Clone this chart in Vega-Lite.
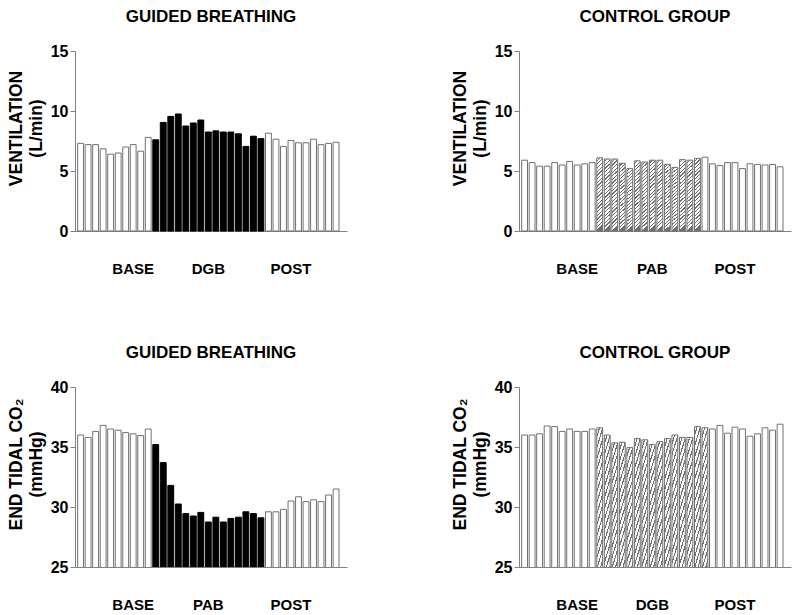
{
  "$schema": "https://vega.github.io/schema/vega-lite/v6.json",
  "padding": {"left": 7, "top": 8, "right": 2, "bottom": 2},
  "background": "white",
  "columns": 2,
  "spacing": {"row": 68, "column": 104},
  "config": {
    "font": "Liberation Sans",
    "view": {"stroke": null},
    "title": {"fontSize": 17, "fontWeight": "bold", "color": "black", "offset": 17, "anchor": "middle", "frame": "group"},
    "axisX": {"ticks": false, "labelAngle": 0, "labelPadding": 30, "labelFontSize": 15, "labelFontWeight": "bold", "labelColor": "black", "domainColor": "#808080", "domainWidth": 1, "labelOverlap": false, "labelBound": false, "title": null, "grid": false},
    "axisY": {"grid": false, "domainColor": "#808080", "tickColor": "#808080", "tickSize": 5, "labelPadding": 2, "labelFontSize": 16, "labelFontWeight": "bold", "labelColor": "black", "titleFontSize": 17.5, "titleFontWeight": "bold", "titleColor": "black", "titleLineHeight": 20, "titlePadding": 5, "titleY": 77}
  },
  "concat": [
    {
      "title": "GUIDED BREATHING",
      "width": 272, "height": 180,
      "data": {"values": [
        {"i": 1, "phase": "BASE", "value": 7.3}, {"i": 2, "phase": "BASE", "value": 7.2}, {"i": 3, "phase": "BASE", "value": 7.2}, {"i": 4, "phase": "BASE", "value": 6.85}, {"i": 5, "phase": "BASE", "value": 6.4}, {"i": 6, "phase": "BASE", "value": 6.5}, {"i": 7, "phase": "BASE", "value": 7.0}, {"i": 8, "phase": "BASE", "value": 7.2}, {"i": 9, "phase": "BASE", "value": 6.65}, {"i": 10, "phase": "BASE", "value": 7.8},
        {"i": 11, "phase": "DGB", "value": 7.6}, {"i": 12, "phase": "DGB", "value": 9.05}, {"i": 13, "phase": "DGB", "value": 9.55}, {"i": 14, "phase": "DGB", "value": 9.75}, {"i": 15, "phase": "DGB", "value": 8.75}, {"i": 16, "phase": "DGB", "value": 9.0}, {"i": 17, "phase": "DGB", "value": 9.25}, {"i": 18, "phase": "DGB", "value": 8.25}, {"i": 19, "phase": "DGB", "value": 8.35}, {"i": 20, "phase": "DGB", "value": 8.25}, {"i": 21, "phase": "DGB", "value": 8.25}, {"i": 22, "phase": "DGB", "value": 8.1}, {"i": 23, "phase": "DGB", "value": 7.05}, {"i": 24, "phase": "DGB", "value": 7.9}, {"i": 25, "phase": "DGB", "value": 7.7},
        {"i": 26, "phase": "POST", "value": 8.15}, {"i": 27, "phase": "POST", "value": 7.65}, {"i": 28, "phase": "POST", "value": 7.05}, {"i": 29, "phase": "POST", "value": 7.55}, {"i": 30, "phase": "POST", "value": 7.35}, {"i": 31, "phase": "POST", "value": 7.35}, {"i": 32, "phase": "POST", "value": 7.65}, {"i": 33, "phase": "POST", "value": 7.2}, {"i": 34, "phase": "POST", "value": 7.3}, {"i": 35, "phase": "POST", "value": 7.4}
      ]},
      "mark": {"type": "bar", "strokeWidth": 1},
      "encoding": {
        "x": {"field": "i", "type": "ordinal", "sort": "ascending", "scale": {"paddingInner": 0.22, "paddingOuter": 0.71, "align": 0.25},
              "axis": {"labelExpr": "datum.value == 8 ? 'BASE' : datum.value == 18 ? 'DGB' : datum.value == 29 ? 'POST' : ''"}},
        "y": {"field": "value", "type": "quantitative", "scale": {"domain": [0, 15], "nice": false},
              "axis": {"values": [0, 5, 10, 15], "title": ["VENTILATION", "(L/min)"]}},
        "fill": {"condition": {"test": "datum.phase === 'DGB'", "value": "black"}, "value": "white"},
        "stroke": {"condition": {"test": "datum.phase === 'DGB'", "value": "black"}, "value": "#707070"}
      }
    },
    {
      "title": "CONTROL GROUP",
      "width": 272, "height": 180,
      "data": {"values": [
        {"i": 1, "phase": "BASE", "value": 5.9}, {"i": 2, "phase": "BASE", "value": 5.7}, {"i": 3, "phase": "BASE", "value": 5.4}, {"i": 4, "phase": "BASE", "value": 5.4}, {"i": 5, "phase": "BASE", "value": 5.7}, {"i": 6, "phase": "BASE", "value": 5.5}, {"i": 7, "phase": "BASE", "value": 5.8}, {"i": 8, "phase": "BASE", "value": 5.5}, {"i": 9, "phase": "BASE", "value": 5.6}, {"i": 10, "phase": "BASE", "value": 5.7},
        {"i": 11, "phase": "PAB", "value": 6.1}, {"i": 12, "phase": "PAB", "value": 6.0}, {"i": 13, "phase": "PAB", "value": 6.0}, {"i": 14, "phase": "PAB", "value": 5.65}, {"i": 15, "phase": "PAB", "value": 5.2}, {"i": 16, "phase": "PAB", "value": 5.85}, {"i": 17, "phase": "PAB", "value": 5.75}, {"i": 18, "phase": "PAB", "value": 5.9}, {"i": 19, "phase": "PAB", "value": 5.9}, {"i": 20, "phase": "PAB", "value": 5.55}, {"i": 21, "phase": "PAB", "value": 5.3}, {"i": 22, "phase": "PAB", "value": 5.95}, {"i": 23, "phase": "PAB", "value": 5.9}, {"i": 24, "phase": "PAB", "value": 6.05},
        {"i": 25, "phase": "POST", "value": 6.15}, {"i": 26, "phase": "POST", "value": 5.6}, {"i": 27, "phase": "POST", "value": 5.45}, {"i": 28, "phase": "POST", "value": 5.7}, {"i": 29, "phase": "POST", "value": 5.7}, {"i": 30, "phase": "POST", "value": 5.2}, {"i": 31, "phase": "POST", "value": 5.6}, {"i": 32, "phase": "POST", "value": 5.55}, {"i": 33, "phase": "POST", "value": 5.5}, {"i": 34, "phase": "POST", "value": 5.55}, {"i": 35, "phase": "POST", "value": 5.35}
      ]},
      "encoding": {
        "x": {"field": "i", "type": "ordinal", "sort": "ascending", "scale": {"paddingInner": 0.22, "paddingOuter": 0.71, "align": 0.25},
              "axis": {"labelExpr": "datum.value == 8 ? 'BASE' : datum.value == 18 ? 'PAB' : datum.value == 29 ? 'POST' : ''"}},
        "y": {"field": "value", "type": "quantitative", "scale": {"domain": [0, 15], "nice": false},
              "axis": {"values": [0, 5, 10, 15], "title": ["VENTILATION", "(L/min)"]}}
      },
      "layer": [
        {"transform": [{"filter": "datum.phase !== 'PAB'"}],
         "mark": {"type": "bar", "fill": "white", "stroke": "#707070", "strokeWidth": 1}},
        {"transform": [{"filter": "datum.phase === 'PAB'"}],
         "mark": {"type": "bar", "stroke": "#707070", "strokeWidth": 1,
           "fill": {"gradient": "linear", "x1": 0, "y1": 0, "x2": 0.08, "y2": 1, "stops": [
             {"offset": 0, "color": "white"}, {"offset": 0.0325, "color": "white"}, {"offset": 0.0325, "color": "#707070"}, {"offset": 0.05, "color": "#707070"},
             {"offset": 0.05, "color": "white"}, {"offset": 0.0825, "color": "white"}, {"offset": 0.0825, "color": "#707070"}, {"offset": 0.1, "color": "#707070"},
             {"offset": 0.1, "color": "white"}, {"offset": 0.1325, "color": "white"}, {"offset": 0.1325, "color": "#707070"}, {"offset": 0.15, "color": "#707070"},
             {"offset": 0.15, "color": "white"}, {"offset": 0.1825, "color": "white"}, {"offset": 0.1825, "color": "#707070"}, {"offset": 0.2, "color": "#707070"},
             {"offset": 0.2, "color": "white"}, {"offset": 0.2325, "color": "white"}, {"offset": 0.2325, "color": "#707070"}, {"offset": 0.25, "color": "#707070"},
             {"offset": 0.25, "color": "white"}, {"offset": 0.2825, "color": "white"}, {"offset": 0.2825, "color": "#707070"}, {"offset": 0.3, "color": "#707070"},
             {"offset": 0.3, "color": "white"}, {"offset": 0.3325, "color": "white"}, {"offset": 0.3325, "color": "#707070"}, {"offset": 0.35, "color": "#707070"},
             {"offset": 0.35, "color": "white"}, {"offset": 0.3825, "color": "white"}, {"offset": 0.3825, "color": "#707070"}, {"offset": 0.4, "color": "#707070"},
             {"offset": 0.4, "color": "white"}, {"offset": 0.4325, "color": "white"}, {"offset": 0.4325, "color": "#707070"}, {"offset": 0.45, "color": "#707070"},
             {"offset": 0.45, "color": "white"}, {"offset": 0.4825, "color": "white"}, {"offset": 0.4825, "color": "#707070"}, {"offset": 0.5, "color": "#707070"},
             {"offset": 0.5, "color": "white"}, {"offset": 0.5325, "color": "white"}, {"offset": 0.5325, "color": "#707070"}, {"offset": 0.55, "color": "#707070"},
             {"offset": 0.55, "color": "white"}, {"offset": 0.5825, "color": "white"}, {"offset": 0.5825, "color": "#707070"}, {"offset": 0.6, "color": "#707070"},
             {"offset": 0.6, "color": "white"}, {"offset": 0.6325, "color": "white"}, {"offset": 0.6325, "color": "#707070"}, {"offset": 0.65, "color": "#707070"},
             {"offset": 0.65, "color": "white"}, {"offset": 0.6825, "color": "white"}, {"offset": 0.6825, "color": "#707070"}, {"offset": 0.7, "color": "#707070"},
             {"offset": 0.7, "color": "white"}, {"offset": 0.7325, "color": "white"}, {"offset": 0.7325, "color": "#707070"}, {"offset": 0.75, "color": "#707070"},
             {"offset": 0.75, "color": "white"}, {"offset": 0.7825, "color": "white"}, {"offset": 0.7825, "color": "#707070"}, {"offset": 0.8, "color": "#707070"},
             {"offset": 0.8, "color": "white"}, {"offset": 0.8325, "color": "white"}, {"offset": 0.8325, "color": "#707070"}, {"offset": 0.85, "color": "#707070"},
             {"offset": 0.85, "color": "white"}, {"offset": 0.8825, "color": "white"}, {"offset": 0.8825, "color": "#707070"}, {"offset": 0.9, "color": "#707070"},
             {"offset": 0.9, "color": "white"}, {"offset": 0.9325, "color": "white"}, {"offset": 0.9325, "color": "#707070"}, {"offset": 0.95, "color": "#707070"},
             {"offset": 0.95, "color": "white"}, {"offset": 0.9825, "color": "white"}, {"offset": 0.9825, "color": "#707070"}, {"offset": 1, "color": "#707070"}
           ]}}}
      ]
    },
    {
      "title": "GUIDED BREATHING",
      "width": 272, "height": 180,
      "data": {"values": [
        {"i": 1, "phase": "BASE", "value": 36.0}, {"i": 2, "phase": "BASE", "value": 35.8}, {"i": 3, "phase": "BASE", "value": 36.3}, {"i": 4, "phase": "BASE", "value": 36.8}, {"i": 5, "phase": "BASE", "value": 36.5}, {"i": 6, "phase": "BASE", "value": 36.4}, {"i": 7, "phase": "BASE", "value": 36.2}, {"i": 8, "phase": "BASE", "value": 36.1}, {"i": 9, "phase": "BASE", "value": 35.95}, {"i": 10, "phase": "BASE", "value": 36.5},
        {"i": 11, "phase": "PAB", "value": 35.2}, {"i": 12, "phase": "PAB", "value": 33.7}, {"i": 13, "phase": "PAB", "value": 31.8}, {"i": 14, "phase": "PAB", "value": 30.25}, {"i": 15, "phase": "PAB", "value": 29.45}, {"i": 16, "phase": "PAB", "value": 29.25}, {"i": 17, "phase": "PAB", "value": 29.55}, {"i": 18, "phase": "PAB", "value": 28.75}, {"i": 19, "phase": "PAB", "value": 29.15}, {"i": 20, "phase": "PAB", "value": 28.75}, {"i": 21, "phase": "PAB", "value": 29.05}, {"i": 22, "phase": "PAB", "value": 29.15}, {"i": 23, "phase": "PAB", "value": 29.6}, {"i": 24, "phase": "PAB", "value": 29.45}, {"i": 25, "phase": "PAB", "value": 29.1},
        {"i": 26, "phase": "POST", "value": 29.6}, {"i": 27, "phase": "POST", "value": 29.6}, {"i": 28, "phase": "POST", "value": 29.8}, {"i": 29, "phase": "POST", "value": 30.5}, {"i": 30, "phase": "POST", "value": 30.85}, {"i": 31, "phase": "POST", "value": 30.45}, {"i": 32, "phase": "POST", "value": 30.6}, {"i": 33, "phase": "POST", "value": 30.45}, {"i": 34, "phase": "POST", "value": 31.0}, {"i": 35, "phase": "POST", "value": 31.5}
      ]},
      "mark": {"type": "bar", "strokeWidth": 1, "clip": true},
      "encoding": {
        "x": {"field": "i", "type": "ordinal", "sort": "ascending", "scale": {"paddingInner": 0.22, "paddingOuter": 0.71, "align": 0.25},
              "axis": {"labelExpr": "datum.value == 8 ? 'BASE' : datum.value == 18 ? 'PAB' : datum.value == 29 ? 'POST' : ''"}},
        "y": {"field": "value", "type": "quantitative", "scale": {"domain": [25, 40], "nice": false, "zero": false},
              "axis": {"values": [25, 30, 35, 40], "title": ["END TIDAL CO₂", "(mmHg)"]}},
        "fill": {"condition": {"test": "datum.phase === 'PAB'", "value": "black"}, "value": "white"},
        "stroke": {"condition": {"test": "datum.phase === 'PAB'", "value": "black"}, "value": "#707070"}
      }
    },
    {
      "title": "CONTROL GROUP",
      "width": 272, "height": 180,
      "data": {"values": [
        {"i": 1, "phase": "BASE", "value": 36.0}, {"i": 2, "phase": "BASE", "value": 36.0}, {"i": 3, "phase": "BASE", "value": 36.1}, {"i": 4, "phase": "BASE", "value": 36.75}, {"i": 5, "phase": "BASE", "value": 36.7}, {"i": 6, "phase": "BASE", "value": 36.3}, {"i": 7, "phase": "BASE", "value": 36.5}, {"i": 8, "phase": "BASE", "value": 36.3}, {"i": 9, "phase": "BASE", "value": 36.3}, {"i": 10, "phase": "BASE", "value": 36.5},
        {"i": 11, "phase": "DGB", "value": 36.6}, {"i": 12, "phase": "DGB", "value": 36.0}, {"i": 13, "phase": "DGB", "value": 35.35}, {"i": 14, "phase": "DGB", "value": 35.4}, {"i": 15, "phase": "DGB", "value": 34.95}, {"i": 16, "phase": "DGB", "value": 35.7}, {"i": 17, "phase": "DGB", "value": 35.6}, {"i": 18, "phase": "DGB", "value": 35.2}, {"i": 19, "phase": "DGB", "value": 35.45}, {"i": 20, "phase": "DGB", "value": 35.7}, {"i": 21, "phase": "DGB", "value": 36.0}, {"i": 22, "phase": "DGB", "value": 35.8}, {"i": 23, "phase": "DGB", "value": 35.8}, {"i": 24, "phase": "DGB", "value": 36.7}, {"i": 25, "phase": "DGB", "value": 36.6},
        {"i": 26, "phase": "POST", "value": 36.5}, {"i": 27, "phase": "POST", "value": 36.8}, {"i": 28, "phase": "POST", "value": 36.15}, {"i": 29, "phase": "POST", "value": 36.65}, {"i": 30, "phase": "POST", "value": 36.5}, {"i": 31, "phase": "POST", "value": 35.9}, {"i": 32, "phase": "POST", "value": 36.1}, {"i": 33, "phase": "POST", "value": 36.6}, {"i": 34, "phase": "POST", "value": 36.4}, {"i": 35, "phase": "POST", "value": 36.9}
      ]},
      "encoding": {
        "x": {"field": "i", "type": "ordinal", "sort": "ascending", "scale": {"paddingInner": 0.22, "paddingOuter": 0.71, "align": 0.25},
              "axis": {"labelExpr": "datum.value == 8 ? 'BASE' : datum.value == 18 ? 'DGB' : datum.value == 29 ? 'POST' : ''"}},
        "y": {"field": "value", "type": "quantitative", "scale": {"domain": [25, 40], "nice": false, "zero": false},
              "axis": {"values": [25, 30, 35, 40], "title": ["END TIDAL CO₂", "(mmHg)"]}}
      },
      "layer": [
        {"transform": [{"filter": "datum.phase !== 'DGB'"}],
         "mark": {"type": "bar", "fill": "white", "stroke": "#707070", "strokeWidth": 1, "clip": true}},
        {"transform": [{"filter": "datum.phase === 'DGB'"}],
         "mark": {"type": "bar", "stroke": "#707070", "strokeWidth": 1, "clip": true,
           "fill": {"gradient": "linear", "x1": 0, "y1": 0, "x2": 0.045, "y2": 1, "stops": [
             {"offset": 0, "color": "white"}, {"offset": 0.01625, "color": "white"}, {"offset": 0.01625, "color": "#707070"}, {"offset": 0.025, "color": "#707070"},
             {"offset": 0.025, "color": "white"}, {"offset": 0.04125, "color": "white"}, {"offset": 0.04125, "color": "#707070"}, {"offset": 0.05, "color": "#707070"},
             {"offset": 0.05, "color": "white"}, {"offset": 0.06625, "color": "white"}, {"offset": 0.06625, "color": "#707070"}, {"offset": 0.075, "color": "#707070"},
             {"offset": 0.075, "color": "white"}, {"offset": 0.09125, "color": "white"}, {"offset": 0.09125, "color": "#707070"}, {"offset": 0.1, "color": "#707070"},
             {"offset": 0.1, "color": "white"}, {"offset": 0.11625, "color": "white"}, {"offset": 0.11625, "color": "#707070"}, {"offset": 0.125, "color": "#707070"},
             {"offset": 0.125, "color": "white"}, {"offset": 0.14125, "color": "white"}, {"offset": 0.14125, "color": "#707070"}, {"offset": 0.15, "color": "#707070"},
             {"offset": 0.15, "color": "white"}, {"offset": 0.16625, "color": "white"}, {"offset": 0.16625, "color": "#707070"}, {"offset": 0.175, "color": "#707070"},
             {"offset": 0.175, "color": "white"}, {"offset": 0.19125, "color": "white"}, {"offset": 0.19125, "color": "#707070"}, {"offset": 0.2, "color": "#707070"},
             {"offset": 0.2, "color": "white"}, {"offset": 0.21625, "color": "white"}, {"offset": 0.21625, "color": "#707070"}, {"offset": 0.225, "color": "#707070"},
             {"offset": 0.225, "color": "white"}, {"offset": 0.24125, "color": "white"}, {"offset": 0.24125, "color": "#707070"}, {"offset": 0.25, "color": "#707070"},
             {"offset": 0.25, "color": "white"}, {"offset": 0.26625, "color": "white"}, {"offset": 0.26625, "color": "#707070"}, {"offset": 0.275, "color": "#707070"},
             {"offset": 0.275, "color": "white"}, {"offset": 0.29125, "color": "white"}, {"offset": 0.29125, "color": "#707070"}, {"offset": 0.3, "color": "#707070"},
             {"offset": 0.3, "color": "white"}, {"offset": 0.31625, "color": "white"}, {"offset": 0.31625, "color": "#707070"}, {"offset": 0.325, "color": "#707070"},
             {"offset": 0.325, "color": "white"}, {"offset": 0.34125, "color": "white"}, {"offset": 0.34125, "color": "#707070"}, {"offset": 0.35, "color": "#707070"},
             {"offset": 0.35, "color": "white"}, {"offset": 0.36625, "color": "white"}, {"offset": 0.36625, "color": "#707070"}, {"offset": 0.375, "color": "#707070"},
             {"offset": 0.375, "color": "white"}, {"offset": 0.39125, "color": "white"}, {"offset": 0.39125, "color": "#707070"}, {"offset": 0.4, "color": "#707070"},
             {"offset": 0.4, "color": "white"}, {"offset": 0.41625, "color": "white"}, {"offset": 0.41625, "color": "#707070"}, {"offset": 0.425, "color": "#707070"},
             {"offset": 0.425, "color": "white"}, {"offset": 0.44125, "color": "white"}, {"offset": 0.44125, "color": "#707070"}, {"offset": 0.45, "color": "#707070"},
             {"offset": 0.45, "color": "white"}, {"offset": 0.46625, "color": "white"}, {"offset": 0.46625, "color": "#707070"}, {"offset": 0.475, "color": "#707070"},
             {"offset": 0.475, "color": "white"}, {"offset": 0.49125, "color": "white"}, {"offset": 0.49125, "color": "#707070"}, {"offset": 0.5, "color": "#707070"},
             {"offset": 0.5, "color": "white"}, {"offset": 0.51625, "color": "white"}, {"offset": 0.51625, "color": "#707070"}, {"offset": 0.525, "color": "#707070"},
             {"offset": 0.525, "color": "white"}, {"offset": 0.54125, "color": "white"}, {"offset": 0.54125, "color": "#707070"}, {"offset": 0.55, "color": "#707070"},
             {"offset": 0.55, "color": "white"}, {"offset": 0.56625, "color": "white"}, {"offset": 0.56625, "color": "#707070"}, {"offset": 0.575, "color": "#707070"},
             {"offset": 0.575, "color": "white"}, {"offset": 0.59125, "color": "white"}, {"offset": 0.59125, "color": "#707070"}, {"offset": 0.6, "color": "#707070"},
             {"offset": 0.6, "color": "white"}, {"offset": 0.61625, "color": "white"}, {"offset": 0.61625, "color": "#707070"}, {"offset": 0.625, "color": "#707070"},
             {"offset": 0.625, "color": "white"}, {"offset": 0.64125, "color": "white"}, {"offset": 0.64125, "color": "#707070"}, {"offset": 0.65, "color": "#707070"},
             {"offset": 0.65, "color": "white"}, {"offset": 0.66625, "color": "white"}, {"offset": 0.66625, "color": "#707070"}, {"offset": 0.675, "color": "#707070"},
             {"offset": 0.675, "color": "white"}, {"offset": 0.69125, "color": "white"}, {"offset": 0.69125, "color": "#707070"}, {"offset": 0.7, "color": "#707070"},
             {"offset": 0.7, "color": "white"}, {"offset": 0.71625, "color": "white"}, {"offset": 0.71625, "color": "#707070"}, {"offset": 0.725, "color": "#707070"},
             {"offset": 0.725, "color": "white"}, {"offset": 0.74125, "color": "white"}, {"offset": 0.74125, "color": "#707070"}, {"offset": 0.75, "color": "#707070"},
             {"offset": 0.75, "color": "white"}, {"offset": 0.76625, "color": "white"}, {"offset": 0.76625, "color": "#707070"}, {"offset": 0.775, "color": "#707070"},
             {"offset": 0.775, "color": "white"}, {"offset": 0.79125, "color": "white"}, {"offset": 0.79125, "color": "#707070"}, {"offset": 0.8, "color": "#707070"},
             {"offset": 0.8, "color": "white"}, {"offset": 0.81625, "color": "white"}, {"offset": 0.81625, "color": "#707070"}, {"offset": 0.825, "color": "#707070"},
             {"offset": 0.825, "color": "white"}, {"offset": 0.84125, "color": "white"}, {"offset": 0.84125, "color": "#707070"}, {"offset": 0.85, "color": "#707070"},
             {"offset": 0.85, "color": "white"}, {"offset": 0.86625, "color": "white"}, {"offset": 0.86625, "color": "#707070"}, {"offset": 0.875, "color": "#707070"},
             {"offset": 0.875, "color": "white"}, {"offset": 0.89125, "color": "white"}, {"offset": 0.89125, "color": "#707070"}, {"offset": 0.9, "color": "#707070"},
             {"offset": 0.9, "color": "white"}, {"offset": 0.91625, "color": "white"}, {"offset": 0.91625, "color": "#707070"}, {"offset": 0.925, "color": "#707070"},
             {"offset": 0.925, "color": "white"}, {"offset": 0.94125, "color": "white"}, {"offset": 0.94125, "color": "#707070"}, {"offset": 0.95, "color": "#707070"},
             {"offset": 0.95, "color": "white"}, {"offset": 0.96625, "color": "white"}, {"offset": 0.96625, "color": "#707070"}, {"offset": 0.975, "color": "#707070"},
             {"offset": 0.975, "color": "white"}, {"offset": 0.99125, "color": "white"}, {"offset": 0.99125, "color": "#707070"}, {"offset": 1, "color": "#707070"}
           ]}}}
      ]
    }
  ]
}
